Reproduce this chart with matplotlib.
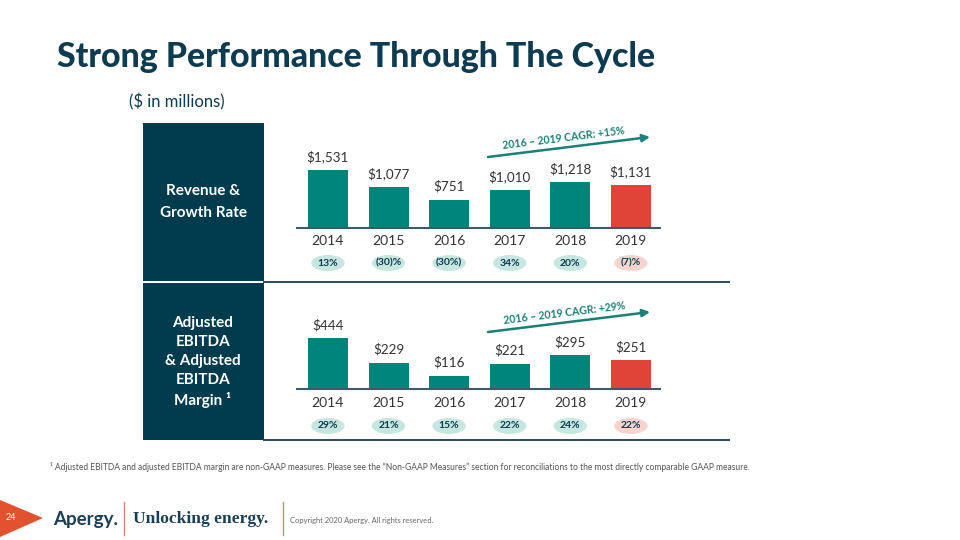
import matplotlib
matplotlib.use("Agg")
import matplotlib.pyplot as plt
from matplotlib.patches import Rectangle, Ellipse, Polygon
from matplotlib.transforms import blended_transform_factory

plt.rcParams['font.family'] = ['Lato', 'DejaVu Sans']

# ---------------- data ----------------
years = ['2014', '2015', '2016', '2017', '2018', '2019']
revenue = [1531, 1077, 751, 1010, 1218, 1131]
revenue_growth = ['13%', '(30)%', '(30%)', '34%', '20%', '(7)%']
ebitda = [444, 229, 116, 221, 295, 251]
ebitda_margin = ['29%', '21%', '15%', '22%', '24%', '22%']
revenue_cagr = '2016 – 2019 CAGR: +15%'
ebitda_cagr = '2016 – 2019 CAGR: +29%'

title = 'Strong Performance Through The Cycle'
subtitle = '($ in millions)'
footnote = ('¹ Adjusted EBITDA and adjusted EBITDA margin are non-GAAP measures. Please see the '
            '“Non-GAAP Measures” section for reconciliations to the most directly comparable GAAP measure.')

# ---------------- colours ----------------
TEAL = '#00857a'
RED = '#e04436'
NAVY = '#003b4e'
TITLE = '#0d3b4f'
PILL_TEAL = '#c6e6e0'
PILL_RED = '#f7d4d0'
ARROW = '#1b8076'

W, H = 960, 540
fig = plt.figure(figsize=(W / 100, H / 100), dpi=100)
fig.patch.set_facecolor('white')

# overlay in pixel coordinates
ov = fig.add_axes([0, 0, 1, 1])
ov.set_xlim(0, W)
ov.set_ylim(H, 0)
ov.axis('off')


def rect_frac(x0, y0, x1, y1):
    return [x0 / W, 1 - y1 / H, (x1 - x0) / W, (y1 - y0) / H]


# title & subtitle
ov.text(57, 57, title, fontsize=24.4, fontweight='black', color=TITLE, ha='left', va='center')
ov.text(177, 102, subtitle, fontsize=12, color=TITLE, ha='center', va='center')

# dark side panels
ov.add_patch(Rectangle((143, 123), 121, 158, facecolor=NAVY, edgecolor='none'))
ov.add_patch(Rectangle((143, 283), 121, 157, facecolor=NAVY, edgecolor='none'))
ov.plot([264, 729], [282, 282], color='#2c4d5a', lw=1.4)
ov.plot([264, 729], [440, 440], color='#2c4d5a', lw=1.4)
ov.text(203, 202, 'Revenue &\nGrowth Rate', color='white', fontsize=11, fontweight='bold',
        ha='center', va='center', linespacing=1.75)
ov.text(203, 362, 'Adjusted\nEBITDA\n& Adjusted\nEBITDA\nMargin ¹', color='white', fontsize=11,
        fontweight='bold', ha='center', va='center', linespacing=1.45)


def bar_panel(rect, values, top, pills, pill_y, year_y, cagr, arrow_from, arrow_to, text_xy):
    ax = fig.add_axes(rect_frac(*rect))
    ax.patch.set_alpha(0)
    colors = [TEAL] * (len(values) - 1) + [RED]
    x = list(range(len(values)))
    bars = ax.bar(x, values, width=0.66, color=colors, zorder=2)
    ax.set_xlim(-0.51, 5.48)
    ax.set_ylim(0, top)
    for s in ['top', 'right', 'left']:
        ax.spines[s].set_visible(False)
    ax.spines['bottom'].set_color('#3d5a66')
    ax.spines['bottom'].set_linewidth(1.5)
    ax.set_yticks([])
    ax.set_xticks([])
    for b, v in zip(bars, values):
        ax.annotate(f'${v:,}', (b.get_x() + b.get_width() / 2, v), xytext=(0, 5),
                    textcoords='offset points', ha='center', va='bottom',
                    fontsize=9.7, color='#333333')
    tr = blended_transform_factory(ax.transData, ax.transAxes)
    for i, (yr, p) in enumerate(zip(years, pills)):
        ax.text(i, year_y, yr, transform=tr, ha='center', va='center', fontsize=10,
                color='#333333')
        fc = PILL_RED if i == len(pills) - 1 else PILL_TEAL
        ax.add_patch(Ellipse((i, pill_y), 0.55, 0.16, transform=tr, facecolor=fc,
                             edgecolor='none', clip_on=False))
        ax.text(i, pill_y, p, transform=tr, ha='center', va='center', fontsize=7.5,
                fontweight='bold', color=TITLE)
    # CAGR arrow
    ov.annotate('', xy=arrow_to, xytext=arrow_from,
                arrowprops=dict(arrowstyle='-|>', color=ARROW, lw=1.8, mutation_scale=11,
                                shrinkA=0, shrinkB=0))
    ov.text(text_xy[0], text_xy[1], cagr, rotation=7, rotation_mode='anchor', ha='center',
            va='center', fontsize=7.6, fontweight='bold', color=ARROW)
    return ax


bar_panel((297, 128, 660, 228), revenue, 100 * 1531 / 58, revenue_growth, -0.35, -0.13,
          revenue_cagr, (488, 157), (650, 137), (564, 138))
bar_panel((297, 289, 660, 389), ebitda, 100 * 444 / 51, ebitda_margin, -0.37, -0.14,
          ebitda_cagr, (488, 332), (650, 312), (564, 313))

# footnote
ov.text(50, 467, footnote, fontsize=6.15, color='#555555', ha='left', va='center')

# footer
ov.add_patch(Polygon([(0, 500), (43, 518), (0, 537)], closed=True, facecolor='#e2522f',
                     edgecolor='none'))
ov.text(11, 518, '24', color='white', fontsize=6.5, ha='center', va='center')
ov.text(53, 519, 'Apergy.', color='#1b3f55', fontsize=13.5, fontweight='bold', ha='left',
        va='center')
ov.plot([124, 124], [502, 535], color='#c98a75', lw=1)
ov.text(133, 519, 'Unlocking energy.', color='#1b3f55', fontsize=12.6, fontweight='bold',
        family=['Liberation Serif', 'DejaVu Serif'], ha='left', va='center')
ov.plot([283, 283], [502, 535], color='#c98a75', lw=1)
ov.text(290, 521, 'Copyright 2020 Apergy. All rights reserved.', color='#666666',
        fontsize=5.4, ha='left', va='center')

fig.savefig('out.png', dpi=100)
